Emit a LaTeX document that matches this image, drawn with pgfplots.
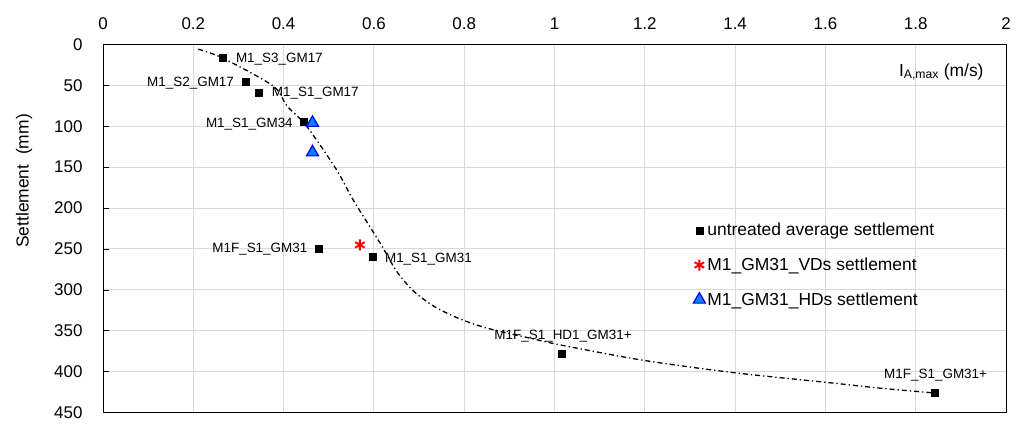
\documentclass[border=0pt]{standalone}
\usepackage{fontspec}
\setmainfont{Liberation Sans}
\usepackage{pgfplots}
\pgfplotsset{compat=1.18}
\definecolor{gridgray}{RGB}{217,217,217}
\definecolor{trifill}{RGB}{0,130,255}
\definecolor{triedge}{RGB}{0,0,230}
\begin{document}
\begin{tikzpicture}[x=1bp,y=1bp]
\path[use as bounding box] (0,0) rectangle (1018,424);
\begin{axis}[
  at={(103bp,11.3bp)}, anchor=south west,
  scale only axis, width=903bp, height=368.4bp,
  xmin=0, xmax=2, ymin=0, ymax=450, y dir=reverse,
  xtick={0,0.2,0.4,0.6,0.8,1,1.2,1.4,1.6,1.8,2},
  ytick={0,50,100,150,200,250,300,350,400,450},
  ytick pos=left,
  xticklabel pos=right,
  xtick style={draw=none},
  ytick style={black, line width=0.8bp},
  major tick length=6bp,
  grid=major,
  major grid style={gridgray, line width=1bp},
  axis line style={black, line width=1bp},
  tick label style={font=\fontsize{17}{20}\selectfont},
  /pgf/number format/assume math mode=true,
  xticklabel style={yshift=11bp},
  yticklabel style={xshift=-17bp},
  ylabel={Settlement\ \ (mm)},
  ylabel style={font=\fontsize{17.5}{20}\selectfont, at={(axis description cs:-0.0875,0.629)}, anchor=center},
  xlabel={I\textsubscript{A,max} (m/s)},
  xlabel style={font=\fontsize{17.5}{20}\selectfont, at={(axis description cs:0.979,0.925)}, anchor=east},
  legend style={draw=none, fill=none, font=\fontsize{17.5}{20}\selectfont,
    at={(axis description cs:0.6535,0.520)}, anchor=north west,
    row sep=16.5bp, inner sep=0pt,
    /tikz/every odd column/.append style={column sep=0bp}},
  legend cell align=left,
  legend image code/.code={\draw[#1] plot coordinates {(0bp,0bp)};},
]
\addplot[forget plot, smooth, black, line width=1.3bp,
  dash pattern=on 5bp off 3bp on 1.3bp off 3bp]
  coordinates {
  (0.211,6) (0.266,17) (0.377,51) (0.407,75) (0.451,100) (0.517,153)
  (0.554,190) (0.614,243) (0.650,277) (0.687,301) (0.730,319) (0.780,333)
  (0.846,346) (0.946,359) (1.020,368) (1.197,386) (1.396,401) (1.603,413)
  (1.721,420) (1.843,426)
  };
\addplot[only marks, mark=square*, mark size=3.5bp, black,
  nodes near coords, point meta=explicit symbolic,
  visualization depends on={value \thisrow{anc}\as\anc},
  visualization depends on={value \thisrow{dx}\as\dx},
  visualization depends on={value \thisrow{dy}\as\dy},
  every node near coord/.append style={anchor=\anc, xshift=\dx bp, yshift=\dy bp,
    inner sep=0pt, font=\fontsize{13.5}{16}\selectfont, black}]
  table[meta=label] {
  x     y    label                   anc     dx     dy
  0.266 16   M1\_S3\_GM17            west    12.7   -1.6
  0.317 46   M1\_S2\_GM17            east    -12    -1.6
  0.345 59   M1\_S1\_GM17            west    13     -0.6
  0.445 95   M1\_S1\_GM34            east    -11    -1.6
  0.478 250  M1F\_S1\_GM31           east    -11.3  0
  0.597 260  M1\_S1\_GM31            west    12.3   -1.7
  1.016 378  M1F\_S1\_HD1\_GM31+     center  1.3    17.3
  1.843 426  M1F\_S1\_GM31+          center  0.5    18.3
  };
\addlegendentry{untreated average settlement}
\addplot[only marks, mark=asterisk, mark size=5.5bp, red, line width=1.9bp]
  coordinates {(0.569,245)};
\addlegendentry{M1\_GM31\_VDs settlement}
\addplot[only marks, mark=triangle*, mark size=7bp, draw=triedge, fill=trifill, line width=1.2bp]
  coordinates {(0.464,96) (0.464,132)};
\addlegendentry{M1\_GM31\_HDs settlement}
\end{axis}
\end{tikzpicture}
\end{document}
